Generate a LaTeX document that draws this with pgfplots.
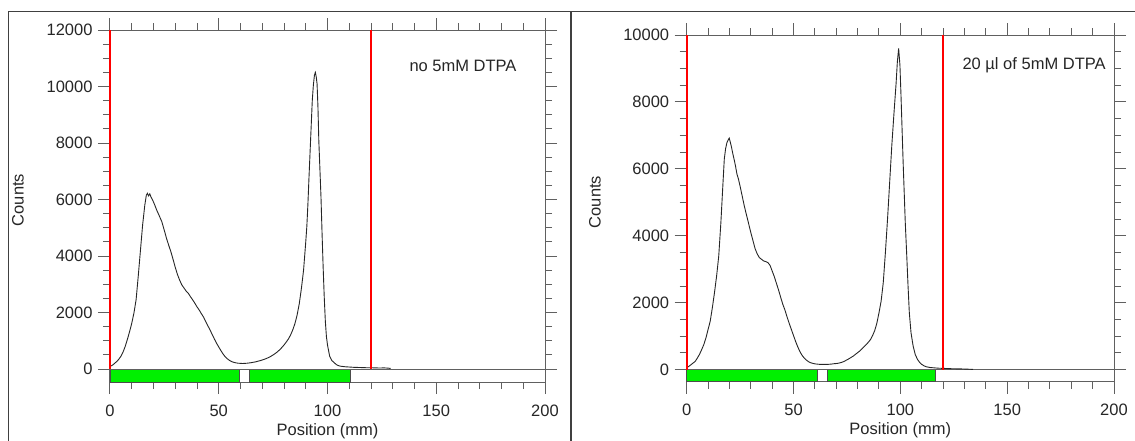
\documentclass[border=0pt]{standalone}
\usepackage{fontspec}
\setmainfont{Liberation Sans}
\usepackage{pgfplots}
\pgfplotsset{compat=1.18}

\definecolor{TlcGreen}{HTML}{00F000}
\definecolor{TlcRed}{HTML}{FF0000}
\definecolor{TlcAxis}{HTML}{606060}
\definecolor{TlcText}{HTML}{262626}
\newcommand\lab{\fontsize{16.5}{19}\selectfont}

% raw scan left: no DTPA
\pgfplotstableread{
x y
0 90
1 130
2 190
3 260
4 340
5 450
6 600
7 800
8 1050
9 1320
10 1620
11 1980
12 2450
13 3300
14 4200
15 5100
16 5800
16.7 6150
17.2 6220
17.7 6130
18.3 6200
18.9 6080
19.6 5980
20.5 5820
21.5 5620
22.5 5450
23.8 5220
25 4900
26 4620
27 4380
28 4150
29 3880
30 3600
31 3350
32 3150
33 2980
34 2870
35 2760
36 2680
37 2560
38 2450
39 2330
40 2200
41 2090
42 1960
43 1840
44 1680
45 1530
46 1380
47 1220
48 1060
49 910
50 780
51 650
52 530
53 430
54 360
55 300
56 260
57 235
58 215
59 205
60 200
61 195
62 200
63 205
64 215
65 225
66 240
67 255
68 275
69 295
70 320
71 345
72 375
73 410
74 450
75 500
76 550
77 610
78 680
79 760
80 850
81 950
82 1060
83 1200
84 1380
85 1600
86 1900
87 2300
88 2850
89 3500
90 4500
90.5 5050
91 5850
91.5 6800
92 7700
92.5 8600
93 9500
93.5 10050
94 10400
94.4 10500
94.8 10350
95.2 10100
95.6 9300
96 8100
96.5 7100
97 6100
97.5 4800
98 3600
98.5 2550
99 1700
99.5 1150
100 850
101 450
102 300
103 230
104 160
105 120
106 100
108 80
110 70
112 60
114 55
116 50
118 45
120 45
122 40
124 35
126 40
128 30
129 20
}\scanA

% raw scan right: 20 ul of 5mM DTPA
\pgfplotstableread{
x y
0 60
1 100
2 150
3 200
4 250
5 350
6 460
7 600
8 750
9 950
10 1200
11 1450
12 1850
13 2300
14 2800
15 3400
16 4400
17 5600
17.6 6300
18.2 6600
18.8 6780
19.4 6860
19.9 6920
20.4 6800
21 6640
21.6 6450
22.2 6280
22.8 6100
23.5 5850
24.2 5700
25 5480
26 5180
27 4880
28 4620
29 4360
30 4100
31 3860
32 3620
33 3460
34 3350
35 3300
36 3250
37 3230
38 3200
39 3120
40 2950
41 2780
42 2580
43 2380
44 2160
45 1950
46 1780
47 1570
48 1380
49 1200
50 1020
51 840
52 680
53 540
54 430
55 350
56 290
57 240
58 210
59 190
60 175
61 168
62 162
63 160
64 160
65 158
66 160
67 165
68 170
69 180
70 185
71 195
72 210
73 230
74 260
75 295
76 330
77 370
78 410
79 460
80 510
81 560
82 620
83 690
84 750
85 820
86 900
87 1020
88 1170
89 1390
90 1700
91 2050
92 2600
93 3500
94 4500
95 5600
96 6700
97 7650
98 8550
98.6 9200
99.2 9600
99.8 9100
100.3 8200
100.8 7200
101.3 6200
101.8 5300
102.3 4400
103 3400
103.6 2500
104.2 1700
105 1100
106 700
107 450
108 310
109 220
110 160
111 120
112 90
114 65
116 55
118 45
120 40
124 30
128 25
132 15
134 10
}\scanB

\pgfplotsset{
  tlc/.style={
    scale only axis,
    anchor=south west,
    clip=false,
    xmin=0, xmax=200,
    xtick={0,50,...,200},
    minor x tick num=4,
    minor y tick num=3,
    tick align=outside,
    major tick length=12pt,
    minor tick length=7pt,
    tick style={TlcAxis, line width=1pt},
    axis line style={TlcAxis, line width=1pt},
    scaled y ticks=false,
    tick label style={font=\lab, text=TlcText},
    xticklabel style={yshift=-7pt},
    yticklabel style={xshift=-2pt},
    /pgf/number format/assume math mode=true,
    /pgf/number format/1000 sep={},
    xlabel={Position (mm)},
    ylabel={Counts},
    label style={font=\lab, text=TlcText},
    xlabel style={at={(axis description cs:0.5,0)}, anchor=center, yshift=-49pt},
  },
}

\begin{document}
\begin{tikzpicture}
\path[use as bounding box] (0,0) rectangle (1135pt,-441pt);
\draw[black!75, line width=1.5pt] (8.3pt,-441pt) -- (8.3pt,-11.7pt) -- (1135pt,-11.7pt);
\draw[black!75, line width=2pt] (570.5pt,-11.7pt) -- (570.5pt,-441pt);

\begin{axis}[tlc,
  at={(110pt,-382pt)},
  width=435pt, height=352pt,
  ymin=-460, ymax=12000,
  ytick={0,2000,...,12000},
  ylabel style={at={(axis description cs:-0.2115,0.517)}, anchor=center},
]
\addplot[fill=TlcGreen, draw=black!70, line width=0.6pt] coordinates {(0,-460) (59.3,-460) (59.3,0) (0,0)} -- cycle;
\addplot[fill=TlcGreen, draw=black!70, line width=0.6pt] coordinates {(63.9,-460) (110.5,-460) (110.5,0) (63.9,0)} -- cycle;
\addplot[TlcAxis, line width=1pt] coordinates {(0,0) (200,0)};
\addplot[black!85, line width=0.9pt] table[x=x, y=y] {\scanA};
\addplot[TlcRed, line width=2pt] coordinates {(0,0) (0,12000)};
\addplot[TlcRed, line width=2pt] coordinates {(120,0) (120,12000)};
\node[font=\lab, text=TlcText] at (axis cs:162.3,10726) {no 5mM DTPA};
\end{axis}

\begin{axis}[tlc,
  at={(686.7pt,-381.7pt)},
  width=427.3pt, height=346.7pt,
  ymin=-358, ymax=10000,
  ytick={0,2000,...,10000},
  ylabel style={at={(axis description cs:-0.2146,0.518)}, anchor=center},
]
\addplot[fill=TlcGreen, draw=black!70, line width=0.6pt] coordinates {(0,-358) (60.9,-358) (60.9,0) (0,0)} -- cycle;
\addplot[fill=TlcGreen, draw=black!70, line width=0.6pt] coordinates {(65.9,-358) (116.5,-358) (116.5,0) (65.9,0)} -- cycle;
\addplot[TlcAxis, line width=1pt] coordinates {(0,0) (200,0)};
\addplot[black!85, line width=0.9pt] table[x=x, y=y] {\scanB};
\addplot[TlcRed, line width=2pt] coordinates {(0,0) (0,10000)};
\addplot[TlcRed, line width=2pt] coordinates {(120,0) (120,10000)};
\node[font=\lab, text=TlcText] at (axis cs:162.6,9104) {20 µl of 5mM DTPA};
\end{axis}
\end{tikzpicture}
\end{document}
